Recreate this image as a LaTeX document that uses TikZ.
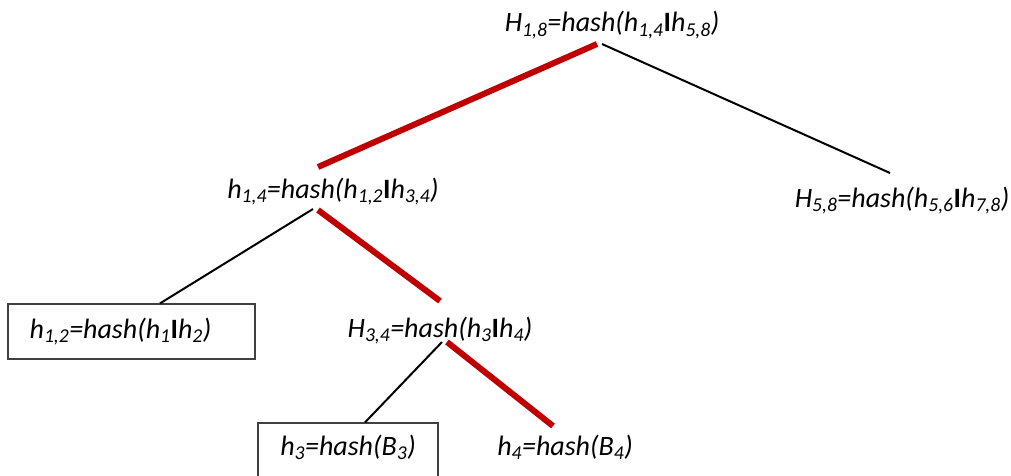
\documentclass[tikz,border=0pt]{standalone}
\usepackage{fontspec}
\setmainfont{Carlito}
\definecolor{proofred}{RGB}{192,0,0}
\newcommand{\cat}{\textbf{\upshape I}}
\newcommand{\ix}[1]{\textsubscript{#1}}

\begin{document}
\begin{tikzpicture}[x=1pt, y=-1pt, line width=2pt,
  lbl/.style={anchor=base, inner sep=0pt, text height=21pt, text depth=7pt,
    font=\fontsize{28}{34}\selectfont\itshape},
  hbox/.style={lbl, draw=black!75, line width=1.2pt},
  proof/.style={draw=proofred, line width=6pt}]
  \useasboundingbox (0,0) rectangle (1011,476);
  % the tree of hashes
  \node[lbl] (r18) at (612,32) {H\ix{1,8}=hash(h\ix{1,4}\cat h\ix{5,8})};
  \node[lbl] (h14) at (333,198) {h\ix{1,4}=hash(h\ix{1,2}\cat h\ix{3,4})};
  \node[lbl] (r58) at (902,207) {H\ix{5,8}=hash(h\ix{5,6}\cat h\ix{7,8})};
  \node[hbox, text height=34pt, text depth=21pt, minimum width=247pt] (h12) at (131.5,338) {h\ix{1,2}=hash(h\ix{1}\cat h\ix{2})\hspace*{22pt}};
  \node[lbl] (h34) at (440,337) {H\ix{3,4}=hash(h\ix{3}\cat h\ix{4})};
  \node[hbox, text height=32pt, text depth=24pt, minimum width=180pt] (h3) at (348,455) {h\ix{3}=hash(B\ix{3})};
  \node[lbl] (h4) at (565,455) {h\ix{4}=hash(B\ix{4})};
  % siblings
  \draw ([xshift=-10pt,yshift=-4pt]r18.south) -- ([xshift=-12pt,yshift=12pt]r58.north);
  \draw ([xshift=-20pt,yshift=-3pt]h14.south) -- ([xshift=28.5pt]h12.north);
  \draw ([xshift=2pt,yshift=3pt]h34.south) -- ([xshift=17pt]h3.north);
  % path of the proof
  \draw[proof] ([xshift=-15pt,yshift=-4pt]r18.south) -- ([xshift=-15pt,yshift=9pt]h14.north);
  \draw[proof] ([xshift=-15pt,yshift=-4pt]h14.south) -- ([yshift=14pt]h34.north);
  \draw[proof] ([xshift=7pt,yshift=3pt]h34.south) -- ([xshift=-12pt,yshift=7pt]h4.north);
\end{tikzpicture}
\end{document}
